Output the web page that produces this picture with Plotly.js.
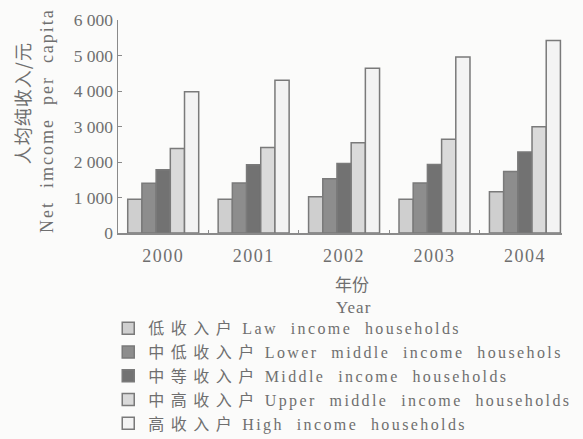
<!DOCTYPE html>
<html>
<head>
<meta charset="utf-8">
<script src="https://cdn.plot.ly/plotly-3.0.1.min.js"></script>
<style>html,body{margin:0;padding:0;background:#fbfbfa;}#chart{width:583px;height:439px;}</style>
</head>
<body>
<div id="chart"></div>
<script>
var years = ['2000', '2001', '2002', '2003', '2004'];
var seriesNames = [
  '低收入户 Law income households',
  '中低收入户 Lower middle income househols',
  '中等收入户 Middle income households',
  '中高收入户 Upper middle income households',
  '高收入户 High income households'
];
var lowIncome = [950, 950, 1020, 950, 1160];
var lowerMiddleIncome = [1400, 1410, 1530, 1410, 1730];
var middleIncome = [1780, 1920, 1960, 1930, 2280];
var upperMiddleIncome = [2380, 2410, 2540, 2640, 2990];
var highIncome = [3980, 4300, 4640, 4960, 5420];
var yTickVals = [0, 1000, 2000, 3000, 4000, 5000, 6000];

var seriesValues = [lowIncome, lowerMiddleIncome, middleIncome, upperMiddleIncome, highIncome];
var fills = ['#cfcfcf', '#8d8d8d', '#727272', '#dadada', '#f3f3f3'];
var serif = '"Liberation Serif", "Noto Sans CJK SC", serif';
var cjk = '"Noto Sans CJK SC", serif';
var txt = '#6f6f6f';

function spaced(s) {
  var parts = s.split(' ');
  var cn = parts.shift();
  return '<span style="letter-spacing:6.5px">' + cn + '</span> <span style="letter-spacing:2.4px">' + parts.join('\u00a0 ') + '</span>';
}

var traces = seriesValues.map(function (vals, i) {
  return {
    type: 'bar',
    x: years,
    y: vals,
    name: spaced(seriesNames[i]),
    legendgroup: 'g' + i,
    marker: {color: fills[i], line: {color: '#7a7a7a', width: 1.5}},
    hoverinfo: 'skip'
  };
});

var layout = {
  width: 583,
  height: 439,
  margin: {l: 118, r: 21, t: 20, b: 206},
  paper_bgcolor: '#fbfbfa',
  plot_bgcolor: '#fbfbfa',
  separators: '. ',
  font: {family: serif, color: txt, size: 17},
  barmode: 'group',
  bargap: 0.215,
  bargroupgap: 0,
  showlegend: true,
  legend: {
    xref: 'paper', yref: 'container',
    x: -0.022, xanchor: 'left',
    y: 0.291, yanchor: 'top',
    bgcolor: 'rgba(0,0,0,0)',
    borderwidth: 0,
    font: {family: serif, size: 16, color: txt},
    traceorder: 'grouped',
    tracegroupgap: 0,
    itemclick: false
  },
  xaxis: {
    type: 'category',
    range: [-0.5, 4.41],
    tickvals: years,
    ticktext: years.map(function (y) { return '<span style="letter-spacing:1.5px">' + y + '</span>'; }),
    showline: true,
    linecolor: '#8a8a8a',
    linewidth: 1.5,
    ticks: 'inside',
    tickson: 'boundaries',
    ticklen: 3,
    tickcolor: '#8a8a8a',
    ticklabelstandoff: 6,
    tickfont: {family: serif, size: 18, color: txt},
    showgrid: false,
    zeroline: false
  },
  yaxis: {
    range: [0, 6000],
    tickvals: yTickVals,
    tickformat: ',d',
    showline: true,
    linecolor: '#8a8a8a',
    linewidth: 1.5,
    ticks: 'inside',
    ticklen: 4,
    tickcolor: '#8a8a8a',
    tickfont: {family: serif, size: 17.5, color: txt},
    showgrid: false,
    zeroline: false
  },
  annotations: [
    {text: '<span style="letter-spacing:1px">人均纯收入/元</span>', xref: 'paper', yref: 'paper', x: -0.216, y: 0.61,
     xanchor: 'center', yanchor: 'middle', textangle: -90,
     showarrow: false, font: {family: cjk, size: 18, color: txt}},
    {text: '<span style="letter-spacing:2px">Net\u00a0 imcome\u00a0 per\u00a0 capita</span>', xref: 'paper', yref: 'paper', x: -0.16, y: 0.53,
     xanchor: 'center', yanchor: 'middle', textangle: -90,
     showarrow: false, font: {family: serif, size: 18, color: txt}},
    {text: '年份', xref: 'paper', yref: 'paper', x: 0.527, y: -0.235,
     xanchor: 'center', yanchor: 'middle',
     showarrow: false, font: {family: cjk, size: 17, color: txt}},
    {text: '<span style="letter-spacing:1px">Year</span>', xref: 'paper', yref: 'paper', x: 0.53, y: -0.352,
     xanchor: 'center', yanchor: 'middle',
     showarrow: false, font: {family: serif, size: 17, color: txt}}
  ]
};

Plotly.newPlot('chart', traces, layout, {displayModeBar: false, staticPlot: true});
</script>
</body>
</html>
